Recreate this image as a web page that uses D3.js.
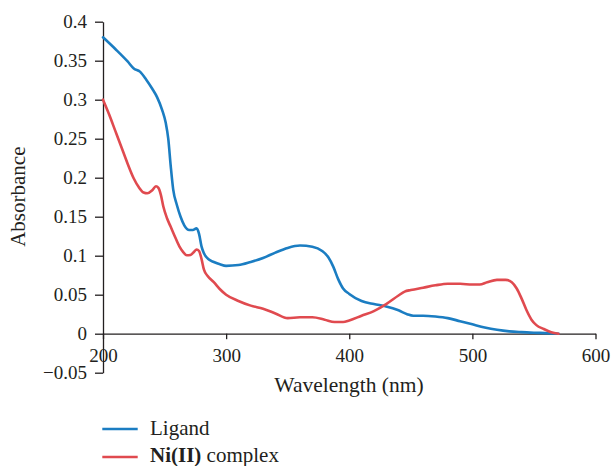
<!DOCTYPE html>
<html>
<head>
<meta charset="utf-8">
<script src="https://cdn.jsdelivr.net/npm/d3@7"></script>
<style>
  html, body { margin: 0; padding: 0; background: #fff; }
  svg { display: block; }
  text { font-family: "Liberation Serif", "DejaVu Serif", serif; fill: #231f20; }
</style>
</head>
<body>
<svg id="chart" width="612" height="466"></svg>
<script>
// Data
const ligandWavelength = [200,210,220,225,230,235,240,244,248,251,253,255,257,260,263,266,270,273,276,278,280,282,286,290,295,300,310,320,330,340,350,360,370,378,383,387,391,395,400,410,420,430,440,447,452,460,470,480,490,500,510,520,530,540,555,570];
const ligandAbs = [0.380,0.365,0.349,0.340,0.336,0.326,0.314,0.303,0.287,0.270,0.250,0.215,0.185,0.165,0.150,0.139,0.133,0.133,0.135,0.128,0.112,0.103,0.095,0.092,0.089,0.087,0.088,0.092,0.097,0.104,0.110,0.113,0.1115,0.106,0.098,0.086,0.070,0.058,0.051,0.042,0.038,0.035,0.030,0.025,0.023,0.023,0.022,0.020,0.016,0.012,0.008,0.005,0.003,0.002,0.001,0.000];

const complexWavelength = [200,205,210,215,220,225,229,233,236,240,243,245,247,249,252,255,258,262,265,268,271,274,276,278,280,282,285,290,295,300,310,320,330,340,350,360,370,380,388,395,400,410,420,430,440,445,450,460,470,480,490,500,506,512,520,527,532,536,540,544,548,552,558,564,570];
const complexAbs = [0.300,0.281,0.260,0.239,0.218,0.199,0.188,0.181,0.180,0.184,0.189,0.187,0.178,0.163,0.148,0.137,0.126,0.112,0.105,0.1005,0.101,0.105,0.108,0.106,0.096,0.082,0.074,0.066,0.057,0.050,0.042,0.036,0.032,0.026,0.020,0.021,0.021,0.018,0.015,0.015,0.017,0.023,0.029,0.038,0.049,0.054,0.056,0.059,0.062,0.064,0.064,0.063,0.063,0.066,0.069,0.069,0.066,0.058,0.045,0.030,0.018,0.011,0.006,0.002,0.000];

const xTicks = [200,300,400,500,600];
const yTicks = [0.4,0.35,0.3,0.25,0.2,0.15,0.1,0.05,0,-0.05];
const yTickLabels = ["0.4","0.35","0.3","0.25","0.2","0.15","0.1","0.05","0","\u22120.05"];
const seriesNames = ["Ligand","Ni(II) complex"];
const seriesColors = ["#1b7dc2","#e04a4f"];

const svg = d3.select("#chart");
svg.append("rect").attr("width",612).attr("height",466).attr("fill","#fff");

const x = d3.scaleLinear().domain([200,600]).range([103,595.5]);
const y = d3.scaleLinear().domain([-0.05,0.4]).range([372.7,21.7]);

// Y axis
const yAxis = d3.axisLeft(y).tickValues(yTicks)
  .tickFormat((d,i) => yTickLabels[i]).tickSize(8).tickSizeOuter(0).tickPadding(8);
const gy = svg.append("g").attr("transform",`translate(${x(200)},0)`).call(yAxis);
gy.selectAll("text").style("font-size","19px").attr("fill","#231f20");
gy.selectAll("line, path").attr("stroke","#231f20").attr("stroke-width",1.3);

// X axis at y=0
const xAxis = d3.axisBottom(x).tickValues(xTicks).tickFormat(d3.format("d"))
  .tickSize(5.5).tickSizeOuter(0).tickPadding(9);
const gx = svg.append("g").attr("transform",`translate(0,${y(0)})`).call(xAxis);
gx.selectAll("text").style("font-size","19px").attr("fill","#231f20");
gx.selectAll("line, path").attr("stroke","#231f20").attr("stroke-width",1.3);

// Lines
const line = d3.line().x(d => x(d[0])).y(d => y(d[1])).curve(d3.curveMonotoneX);
const series = [
  d3.zip(ligandWavelength, ligandAbs),
  d3.zip(complexWavelength, complexAbs)
];
series.forEach((s,i) => {
  svg.append("path").datum(s).attr("d",line)
    .attr("fill","none").attr("stroke",seriesColors[i]).attr("stroke-width",2.6)
    .attr("stroke-linejoin","round").attr("stroke-linecap","round");
});

// Axis titles
svg.append("text").attr("x",(274+424)/2).attr("y",392).attr("text-anchor","middle")
  .style("font-size","21.5px").text("Wavelength (nm)");
svg.append("text").attr("transform","translate(25,196.7) rotate(-90)").attr("text-anchor","middle")
  .style("font-size","21px").text("Absorbance");

// Legend
const legendY = [429, 457];
const legendTextY = [435, 461.5];
series.forEach((s,i) => {
  svg.append("line").attr("x1",102.3).attr("x2",137.7).attr("y1",legendY[i]).attr("y2",legendY[i])
    .attr("stroke",seriesColors[i]).attr("stroke-width",2.6);
});
svg.append("text").attr("x",150).attr("y",legendTextY[0]).style("font-size","21px").text(seriesNames[0]);
const t2 = svg.append("text").attr("x",150).attr("y",legendTextY[1]).style("font-size","21px");
t2.append("tspan").attr("font-weight","bold").text("Ni(II)");
t2.append("tspan").text(" complex");
</script>
</body>
</html>
